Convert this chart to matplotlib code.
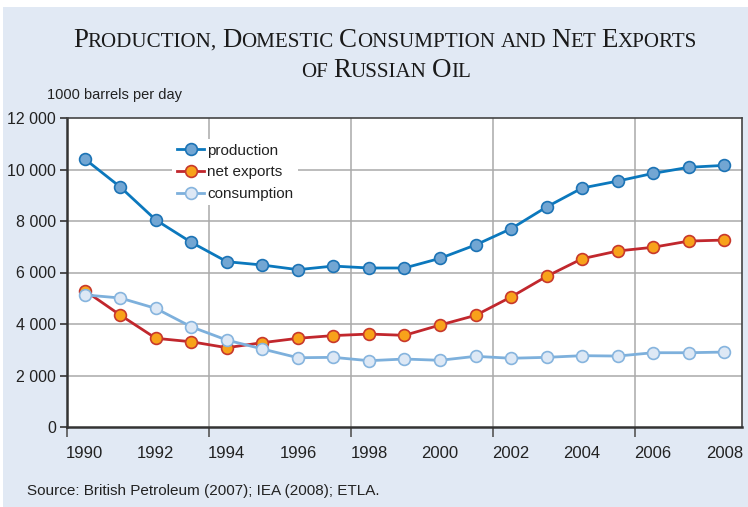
import numpy as np
import matplotlib
matplotlib.use("Agg")
import matplotlib.pyplot as plt
from matplotlib.patches import Rectangle

# data (1000 barrels per day)
years = list(range(1990, 2009))
production = [10410, 9320, 8040, 7170, 6420, 6290, 6110, 6250, 6175, 6175,
              6550, 7070, 7700, 8545, 9280, 9550, 9850, 10085, 10160]
net_exports = [5300, 4345, 3445, 3310, 3080, 3275, 3445, 3550, 3610, 3560,
               3960, 4335, 5050, 5850, 6535, 6835, 6980, 7220, 7260]
consumption = [5130, 5010, 4605, 3890, 3375, 3030, 2690, 2705, 2575, 2640,
               2590, 2745, 2670, 2705, 2770, 2755, 2885, 2885, 2910]
title_lines = ["Production, Domestic Consumption and Net Exports", "of Russian Oil"]
ylabel = "1000 barrels per day"
source = "Source: British Petroleum (2007); IEA (2008); ETLA."

BG = "#e1e9f4"
SANS = ["Liberation Sans", "DejaVu Sans"]
SERIF = ["Liberation Serif", "DejaVu Serif"]

fig = plt.figure(figsize=(7.48, 5.07), dpi=100)
fig.patch.set_facecolor("white")
fig.patches.append(Rectangle((3 / 748, 0), 1, 1 - 7 / 507, transform=fig.transFigure,
                             facecolor=BG, edgecolor="none", zorder=-10))

ax = fig.add_axes([67 / 748, 1 - 427 / 507, 675 / 748, 309 / 507])
ax.set_facecolor("white")

ax.plot(years, production, "-o", color="#0b78bd", lw=2.0, ms=8.5,
        mfc="#72a6d3", mec="#1c73b5", mew=1.2, label="production", zorder=4)
ax.plot(years, net_exports, "-o", color="#c1272d", lw=2.0, ms=8.5,
        mfc="#f8a21a", mec="#c8382b", mew=1.2, label="net exports", zorder=5)
ax.plot(years, consumption, "-o", color="#7db0dc", lw=2.0, ms=8.5,
        mfc="#dde8f5", mec="#86b4de", mew=1.2, label="consumption", zorder=6)

ax.set_xlim(1989.5, 2008.5)
ax.set_ylim(0, 12000)
ax.set_yticks(range(0, 12001, 2000))
ax.set_yticklabels([f"{v:,}".replace(",", " ") for v in range(0, 12001, 2000)],
                   fontfamily=SANS, fontsize=11.5, color="#222222")
ax.tick_params(axis="y", length=5, width=1.2, color="#333333", pad=3)

# category boundaries carry the tick marks, even years carry the labels
ax.set_xticks([1989.5, 1993.5, 1997.5, 2001.5, 2005.5])
ax.set_xticklabels([])
ax.tick_params(axis="x", which="major", length=7, width=1.2, color="#555555")
ax.set_xticks(years[::2], minor=True)
ax.set_xticklabels([str(y) for y in years[::2]], minor=True,
                   fontfamily=SANS, fontsize=12, color="#222222")
ax.tick_params(axis="x", which="minor", length=0, pad=14)

for v in range(2000, 12000, 2000):
    ax.axhline(v, color="#aaaaaa", lw=1.1, zorder=1)
for x in [1993.5, 1997.5, 2001.5, 2005.5]:
    ax.axvline(x, color="#aaaaaa", lw=1.1, zorder=1)

for side in ["left", "bottom"]:
    ax.spines[side].set_color("#333333")
    ax.spines[side].set_linewidth(1.8)
for side in ["top", "right"]:
    ax.spines[side].set_color("#444444")
    ax.spines[side].set_linewidth(1.2)

leg = ax.legend(loc="upper left", bbox_to_anchor=(0.156, 0.932), frameon=True,
                prop={"family": SANS, "size": 11}, handlelength=1.8,
                handletextpad=0.2, labelspacing=0.5, borderpad=0.3,
                borderaxespad=0)
leg.get_frame().set_facecolor("white")
leg.get_frame().set_edgecolor("none")
leg.get_frame().set_alpha(1)
for t in leg.get_texts():
    t.set_color("#222222")

fig.text(47 / 748, 1 - 95 / 507, ylabel, fontfamily=SANS, fontsize=10.5,
         color="#222222", va="center", ha="left")
fig.text(27 / 748, 1 - 491 / 507, source, fontfamily=SANS, fontsize=11,
         color="#222222", va="center", ha="left")


# small-caps title: capitals at full size, other letters upper-cased smaller
renderer = fig.canvas.get_renderer()


def run_width(s, size):
    t = fig.text(0, 0, s, fontfamily=SERIF, fontsize=size)
    w = t.get_window_extent(renderer).width
    t.remove()
    return w


def split_runs(text, big, small):
    runs = []
    space = run_width("X X", small) - run_width("XX", small)
    for wi, word in enumerate(text.split(" ")):
        if wi:
            runs.append((None, small, space))
        cur, cur_big = "", None
        for ch in word:
            isbig = ch.isupper()
            if cur and isbig != cur_big:
                runs.append((cur if cur_big else cur.upper(), big if cur_big else small, None))
                cur = ""
            cur += ch
            cur_big = isbig
        runs.append((cur if cur_big else cur.upper(), big if cur_big else small, None))
    return [(s, sz, w if s is None else run_width(s, sz)) for s, sz, w in runs]


def smallcaps(text, y_px, cx_px, big, small):
    W, H = fig.bbox.width, fig.bbox.height
    runs = split_runs(text, big, small)
    x = cx_px - sum(r[2] for r in runs) / 2
    for s, size, w in runs:
        if s is not None:
            fig.text(x / W, 1 - y_px / H, s, fontfamily=SERIF, fontsize=size,
                     color="#1a1a1a", ha="left", va="baseline")
        x += w


# fit the first line to the reference width (about 626 px)
big, small = 23.0, 18.0
k = 626 / sum(r[2] for r in split_runs(title_lines[0], big, small))
smallcaps(title_lines[0], 47, 385, big * k, small * k)
smallcaps(title_lines[1], 77, 386, big * k, small * k)

fig.savefig("out.png", dpi=100, facecolor=fig.get_facecolor())
